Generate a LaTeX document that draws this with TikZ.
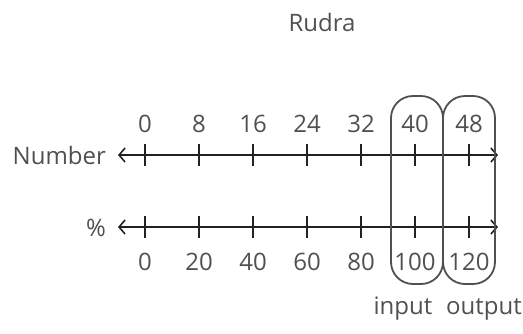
\documentclass[tikz,border=0pt]{standalone}
\usepackage{fontspec}
\setmainfont{Open Sans}
\usetikzlibrary{arrows.meta}
\definecolor{txt}{HTML}{505050}
\definecolor{ln}{HTML}{222222}
\begin{document}
\begin{tikzpicture}[x=1pt,y=-1pt,
  lbl/.style={text=txt,font=\fontsize{24}{28}\selectfont,inner sep=0pt},
  axis/.style={draw=ln,line width=2pt,{Straight Barb[length=6pt,width=14pt,line width=1.6pt]}-{Straight Barb[length=6pt,width=14pt,line width=1.6pt]}},
  tick/.style={draw=ln,line width=1.6pt},
  group/.style={draw=txt,line width=1.8pt,rounded corners=22pt}]
\useasboundingbox (0,0) rectangle (523,333);
\node[lbl] (title) at (322,22) {Rudra};
% axes
\coordinate (tl) at (118,155); \coordinate (tr) at (498,155);
\coordinate (bl) at (118,227); \coordinate (br) at (498,227);
\draw[axis] (tl) -- (tr);
\draw[axis] (bl) -- (br);
\node[lbl,anchor=east] (number) at (106,155) {Number};
\node[lbl,anchor=east] (pct) at (106,228) {\%};
\foreach \i/\a/\b in {0/0/0,1/8/20,2/16/40,3/24/60,4/32/80,5/40/100,6/48/120}{
  \coordinate (t\i) at ({145+54*\i},155);
  \coordinate (b\i) at ({145+54*\i},227);
  \draw[tick] ([yshift=-11pt]t\i) -- ([yshift=11pt]t\i);
  \draw[tick] ([yshift=-11pt]b\i) -- ([yshift=11pt]b\i);
  \node[lbl] (tn\i) at ({145+54*\i},124) {\a};
  \node[lbl] (bn\i) at ({145+54*\i},262) {\b};
}
\draw[group] (391,96) rectangle (443,284);
\draw[group] (443,96) rectangle (495,284);
\node[lbl] (input) at (403,309) {input};
\node[lbl] (output) at (484,309) {output};
\end{tikzpicture}
\end{document}
